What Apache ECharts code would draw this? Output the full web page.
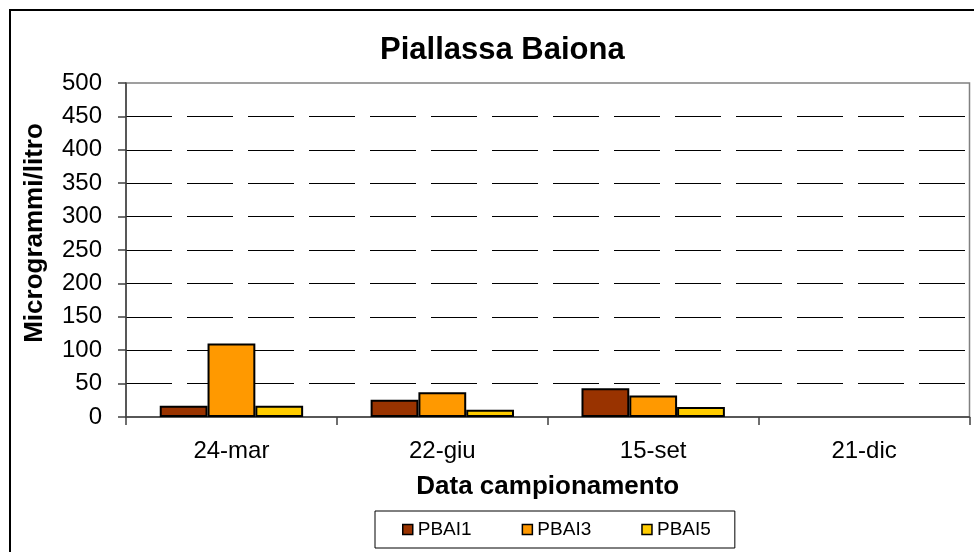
<!DOCTYPE html>
<html>
<head>
<meta charset="utf-8">
<title>Piallassa Baiona</title>
<script src="https://cdn.jsdelivr.net/npm/echarts@6/dist/echarts.min.js"></script>
<style>
  html, body { margin: 0; padding: 0; background: #ffffff; }
  #chart { width: 974px; height: 552px; }
</style>
</head>
<body>
<div id="chart"></div>
<script>
// Sampling dates (x categories)
const categories = ['24-mar', '22-giu', '15-set', '21-dic'];

// Concentrations in µg/l per station; null = no sample
const pbai1 = [17, 26, 43, null];
const pbai3 = [110, 37, 32, null];
const pbai5 = [17, 11, 15, null];

const seriesNames = ['PBAI1', 'PBAI3', 'PBAI5'];
const seriesColors = ['#993300', '#FF9900', '#FFCC00'];

const FONT = '"Liberation Sans", Arial, sans-serif';

const chart = echarts.init(document.getElementById('chart'), null, { renderer: 'canvas' });

const barSeries = [pbai1, pbai3, pbai5].map((values, i) => ({
  name: seriesNames[i],
  type: 'bar',
  data: values,
  barGap: '0%',
  barCategoryGap: '32%',
  itemStyle: {
    color: seriesColors[i],
    borderColor: '#000000',
    borderWidth: 2
  },
  emphasis: { disabled: true }
}));

chart.setOption({
  animation: false,
  backgroundColor: '#ffffff',
  title: {
    text: 'Piallassa Baiona',
    left: 380,
    top: 35,
    padding: 0,
    textStyle: { fontFamily: FONT, fontSize: 31, fontWeight: 'bold', color: '#000000' }
  },
  legend: {
    data: seriesNames,
    left: 375,
    top: 511,
    padding: [9, 24, 9, 27],
    itemWidth: 10,
    itemHeight: 10,
    itemGap: 50,
    icon: 'rect',
    borderColor: '#000000',
    borderWidth: 1,
    backgroundColor: '#ffffff',
    itemStyle: { borderColor: '#000000', borderWidth: 1.5 },
    textStyle: { fontFamily: FONT, fontSize: 19, color: '#000000' }
  },
  grid: {
    left: 126,
    right: 4.5,
    top: 83,
    bottom: 135,
    show: true,
    borderColor: '#808080',
    borderWidth: 1.5,
    backgroundColor: 'transparent'
  },
  xAxis: {
    type: 'category',
    data: categories,
    name: 'Data campionamento',
    nameLocation: 'middle',
    nameGap: 57,
    nameTextStyle: { fontFamily: FONT, fontSize: 26, fontWeight: 'bold', color: '#000000' },
    axisLine: { show: true, lineStyle: { color: '#404040', width: 1.5 } },
    axisTick: { show: true, length: 8, inside: false, lineStyle: { color: '#404040', width: 1.5 } },
    axisLabel: { margin: 22, fontFamily: FONT, fontSize: 24, color: '#000000' },
    splitLine: { show: false }
  },
  yAxis: {
    type: 'value',
    min: 0,
    max: 500,
    interval: 50,
    axisLine: { show: true, lineStyle: { color: '#404040', width: 1.5 } },
    axisTick: { show: true, length: 8, inside: false, lineStyle: { color: '#404040', width: 1.5 } },
    axisLabel: { margin: 24, fontFamily: FONT, fontSize: 24, color: '#000000' },
    splitLine: {
      show: true,
      showMinLine: false,
      showMaxLine: false,
      lineStyle: { color: '#000000', width: 1, type: [46, 15] }
    }
  },
  graphic: [
    {
      // outer chart frame
      type: 'rect',
      z: 100,
      silent: true,
      shape: { x: 10, y: 10, width: 1000, height: 600 },
      style: { fill: 'none', stroke: '#000000', lineWidth: 2 }
    },
    {
      // vertical axis title
      type: 'text',
      x: 35,
      y: 233,
      rotation: Math.PI / 2,
      silent: true,
      style: {
        text: 'Microgrammi/litro',
        fill: '#000000',
        font: 'bold 26px ' + FONT,
        textAlign: 'center',
        textVerticalAlign: 'middle'
      }
    }
  ],
  series: barSeries
});
</script>
</body>
</html>
